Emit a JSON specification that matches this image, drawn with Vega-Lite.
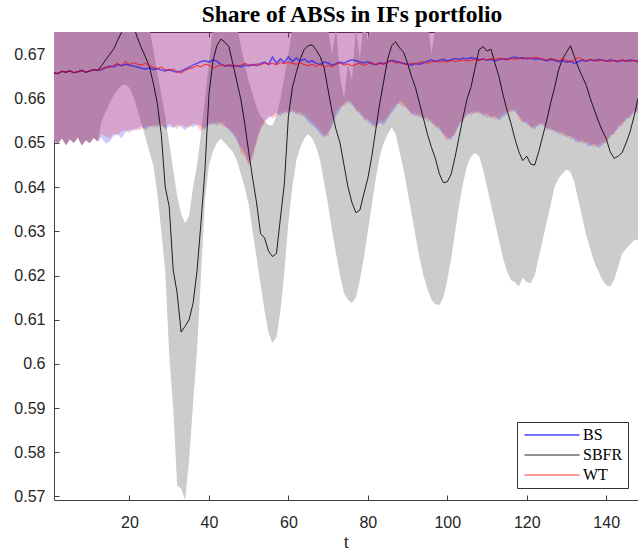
{
  "$schema": "https://vega.github.io/schema/vega-lite/v6.json",
  "autosize": {"type": "none"},
  "padding": {"left": 54, "top": 32, "right": 0, "bottom": 53},
  "width": 584,
  "height": 468,
  "title": {"text": "Share of ABSs in IFs portfolio", "font": "Liberation Serif", "fontSize": 23.5, "fontWeight": "bold", "color": "#000000", "offset": 5, "dx": 6},
  "config": {
    "view": {"stroke": null},
    "axis": {"domainColor": "#404040", "tickColor": "#404040", "labelColor": "#262626", "labelFont": "Liberation Sans", "labelFontSize": 16, "grid": false, "tickSize": -5}
  },
  "data": {"values": [
    {"t":1,"sb":0.6658,"bs":0.6658,"wt":0.6658,"gl":0.6505,"gu":0.688,"bl":0.6505,"rl":0.6505,"bu":0.689,"ru":0.687},
    {"t":2,"sb":0.6657,"bs":0.6657,"wt":0.6657,"gl":0.6498,"gu":0.686,"bl":0.6498,"rl":0.6498,"bu":0.690,"ru":0.688},
    {"t":3,"sb":0.6662,"bs":0.6662,"wt":0.6662,"gl":0.6510,"gu":0.687,"bl":0.6510,"rl":0.6510,"bu":0.688,"ru":0.689},
    {"t":4,"sb":0.6660,"bs":0.6660,"wt":0.6660,"gl":0.6495,"gu":0.689,"bl":0.6495,"rl":0.6495,"bu":0.691,"ru":0.686},
    {"t":5,"sb":0.6663,"bs":0.6663,"wt":0.6663,"gl":0.6508,"gu":0.688,"bl":0.6508,"rl":0.6508,"bu":0.687,"ru":0.690},
    {"t":6,"sb":0.6659,"bs":0.6659,"wt":0.6659,"gl":0.6500,"gu":0.686,"bl":0.6500,"rl":0.6500,"bu":0.689,"ru":0.688},
    {"t":7,"sb":0.6661,"bs":0.6661,"wt":0.6661,"gl":0.6512,"gu":0.690,"bl":0.6512,"rl":0.6512,"bu":0.688,"ru":0.691},
    {"t":8,"sb":0.6664,"bs":0.6664,"wt":0.6664,"gl":0.6494,"gu":0.687,"bl":0.6494,"rl":0.6494,"bu":0.690,"ru":0.687},
    {"t":9,"sb":0.6660,"bs":0.6660,"wt":0.6660,"gl":0.6506,"gu":0.688,"bl":0.6506,"rl":0.6506,"bu":0.686,"ru":0.689},
    {"t":10,"sb":0.6663,"bs":0.6663,"wt":0.6663,"gl":0.6499,"gu":0.689,"bl":0.6499,"rl":0.6499,"bu":0.689,"ru":0.690},
    {"t":11,"sb":0.6666,"bs":0.6666,"wt":0.6666,"gl":0.6511,"gu":0.687,"bl":0.6511,"rl":0.6511,"bu":0.691,"ru":0.688},
    {"t":12,"sb":0.6664,"bs":0.6664,"wt":0.6664,"gl":0.6503,"gu":0.688,"bl":0.6503,"rl":0.6503,"bu":0.688,"ru":0.689},
    {"t":13,"sb":0.6675,"bs":0.6666,"wt":0.6668,"gl":0.6550,"gu":0.688,"bl":0.6512,"rl":0.6520,"bu":0.690,"ru":0.687},
    {"t":14,"sb":0.6688,"bs":0.6670,"wt":0.6672,"gl":0.6570,"gu":0.686,"bl":0.6498,"rl":0.6515,"bu":0.687,"ru":0.690},
    {"t":15,"sb":0.6700,"bs":0.6674,"wt":0.6670,"gl":0.6590,"gu":0.689,"bl":0.6503,"rl":0.6510,"bu":0.689,"ru":0.688},
    {"t":16,"sb":0.6712,"bs":0.6672,"wt":0.6676,"gl":0.6608,"gu":0.687,"bl":0.6515,"rl":0.6522,"bu":0.691,"ru":0.689},
    {"t":17,"sb":0.6732,"bs":0.6677,"wt":0.6680,"gl":0.6620,"gu":0.690,"bl":0.6520,"rl":0.6518,"bu":0.688,"ru":0.687},
    {"t":18,"sb":0.6750,"bs":0.6675,"wt":0.6674,"gl":0.6630,"gu":0.688,"bl":0.6510,"rl":0.6526,"bu":0.690,"ru":0.690},
    {"t":19,"sb":0.6770,"bs":0.6678,"wt":0.6685,"gl":0.6632,"gu":0.686,"bl":0.6524,"rl":0.6530,"bu":0.687,"ru":0.688},
    {"t":20,"sb":0.6778,"bs":0.6676,"wt":0.6677,"gl":0.6625,"gu":0.689,"bl":0.6530,"rl":0.6522,"bu":0.689,"ru":0.691},
    {"t":21,"sb":0.6765,"bs":0.6674,"wt":0.6682,"gl":0.6605,"gu":0.687,"bl":0.6527,"rl":0.6534,"bu":0.688,"ru":0.687},
    {"t":22,"sb":0.6738,"bs":0.6672,"wt":0.6678,"gl":0.6575,"gu":0.685,"bl":0.6533,"rl":0.6528,"bu":0.690,"ru":0.689},
    {"t":23,"sb":0.6715,"bs":0.6669,"wt":0.6676,"gl":0.6545,"gu":0.684,"bl":0.6538,"rl":0.6531,"bu":0.687,"ru":0.688},
    {"t":24,"sb":0.6695,"bs":0.6667,"wt":0.6680,"gl":0.6512,"gu":0.680,"bl":0.6529,"rl":0.6537,"bu":0.689,"ru":0.690},
    {"t":25,"sb":0.6673,"bs":0.6670,"wt":0.6674,"gl":0.6480,"gu":0.676,"bl":0.6536,"rl":0.6540,"bu":0.691,"ru":0.687},
    {"t":26,"sb":0.6635,"bs":0.6666,"wt":0.6671,"gl":0.6450,"gu":0.671,"bl":0.6541,"rl":0.6534,"bu":0.688,"ru":0.689},
    {"t":27,"sb":0.6590,"bs":0.6668,"wt":0.6668,"gl":0.6385,"gu":0.666,"bl":0.6535,"rl":0.6543,"bu":0.690,"ru":0.688},
    {"t":28,"sb":0.6520,"bs":0.6665,"wt":0.6672,"gl":0.6300,"gu":0.661,"bl":0.6545,"rl":0.6538,"bu":0.687,"ru":0.690},
    {"t":29,"sb":0.6400,"bs":0.6663,"wt":0.6666,"gl":0.6210,"gu":0.656,"bl":0.6530,"rl":0.6535,"bu":0.689,"ru":0.687},
    {"t":30,"sb":0.6356,"bs":0.6666,"wt":0.6664,"gl":0.6020,"gu":0.650,"bl":0.6538,"rl":0.6544,"bu":0.688,"ru":0.691},
    {"t":31,"sb":0.6213,"bs":0.6662,"wt":0.6667,"gl":0.5900,"gu":0.644,"bl":0.6533,"rl":0.6539,"bu":0.690,"ru":0.688},
    {"t":32,"sb":0.6160,"bs":0.6660,"wt":0.6662,"gl":0.5725,"gu":0.638,"bl":0.6541,"rl":0.6531,"bu":0.687,"ru":0.689},
    {"t":33,"sb":0.6072,"bs":0.6663,"wt":0.6658,"gl":0.5718,"gu":0.634,"bl":0.6536,"rl":0.6542,"bu":0.689,"ru":0.687},
    {"t":34,"sb":0.6085,"bs":0.6667,"wt":0.6664,"gl":0.5692,"gu":0.6318,"bl":0.6528,"rl":0.6536,"bu":0.691,"ru":0.690},
    {"t":35,"sb":0.6100,"bs":0.6671,"wt":0.6668,"gl":0.5780,"gu":0.6335,"bl":0.6540,"rl":0.6534,"bu":0.688,"ru":0.688},
    {"t":36,"sb":0.6137,"bs":0.6676,"wt":0.6670,"gl":0.5910,"gu":0.6400,"bl":0.6535,"rl":0.6545,"bu":0.690,"ru":0.689},
    {"t":37,"sb":0.6210,"bs":0.6680,"wt":0.6675,"gl":0.6030,"gu":0.6450,"bl":0.6543,"rl":0.6538,"bu":0.687,"ru":0.691},
    {"t":38,"sb":0.6320,"bs":0.6684,"wt":0.6672,"gl":0.6200,"gu":0.6520,"bl":0.6538,"rl":0.6527,"bu":0.689,"ru":0.687},
    {"t":39,"sb":0.6439,"bs":0.6686,"wt":0.6678,"gl":0.6370,"gu":0.6600,"bl":0.6530,"rl":0.6535,"bu":0.688,"ru":0.690},
    {"t":40,"sb":0.6610,"bs":0.6683,"wt":0.6676,"gl":0.6450,"gu":0.6680,"bl":0.6540,"rl":0.6546,"bu":0.690,"ru":0.688},
    {"t":41,"sb":0.6685,"bs":0.6688,"wt":0.6669,"gl":0.6480,"gu":0.6760,"bl":0.6547,"rl":0.6540,"bu":0.687,"ru":0.689},
    {"t":42,"sb":0.6720,"bs":0.6685,"wt":0.6673,"gl":0.6500,"gu":0.684,"bl":0.6539,"rl":0.6549,"bu":0.689,"ru":0.687},
    {"t":43,"sb":0.6735,"bs":0.6678,"wt":0.6677,"gl":0.6510,"gu":0.687,"bl":0.6548,"rl":0.6541,"bu":0.691,"ru":0.690},
    {"t":44,"sb":0.6728,"bs":0.6674,"wt":0.6675,"gl":0.6500,"gu":0.686,"bl":0.6540,"rl":0.6536,"bu":0.688,"ru":0.688},
    {"t":45,"sb":0.6718,"bs":0.6676,"wt":0.6674,"gl":0.6490,"gu":0.688,"bl":0.6528,"rl":0.6534,"bu":0.690,"ru":0.691},
    {"t":46,"sb":0.6680,"bs":0.6673,"wt":0.6678,"gl":0.6480,"gu":0.682,"bl":0.6520,"rl":0.6524,"bu":0.687,"ru":0.687},
    {"t":47,"sb":0.6640,"bs":0.6675,"wt":0.6673,"gl":0.6460,"gu":0.677,"bl":0.6505,"rl":0.6512,"bu":0.689,"ru":0.689},
    {"t":48,"sb":0.6600,"bs":0.6672,"wt":0.6676,"gl":0.6430,"gu":0.672,"bl":0.6490,"rl":0.6478,"bu":0.688,"ru":0.690},
    {"t":49,"sb":0.6545,"bs":0.6676,"wt":0.6680,"gl":0.6400,"gu":0.668,"bl":0.6478,"rl":0.6470,"bu":0.690,"ru":0.688},
    {"t":50,"sb":0.6480,"bs":0.6674,"wt":0.6677,"gl":0.6360,"gu":0.664,"bl":0.6455,"rl":0.6448,"bu":0.687,"ru":0.689},
    {"t":51,"sb":0.6420,"bs":0.6678,"wt":0.6675,"gl":0.6300,"gu":0.661,"bl":0.6472,"rl":0.6465,"bu":0.689,"ru":0.687},
    {"t":52,"sb":0.6364,"bs":0.6675,"wt":0.6679,"gl":0.6240,"gu":0.658,"bl":0.6508,"rl":0.6500,"bu":0.691,"ru":0.690},
    {"t":53,"sb":0.6295,"bs":0.6680,"wt":0.6676,"gl":0.6180,"gu":0.656,"bl":0.6535,"rl":0.6528,"bu":0.688,"ru":0.688},
    {"t":54,"sb":0.6285,"bs":0.6683,"wt":0.6681,"gl":0.6120,"gu":0.655,"bl":0.6550,"rl":0.6545,"bu":0.690,"ru":0.691},
    {"t":55,"sb":0.6255,"bs":0.6677,"wt":0.6678,"gl":0.6070,"gu":0.654,"bl":0.6556,"rl":0.6562,"bu":0.687,"ru":0.687},
    {"t":56,"sb":0.6243,"bs":0.6694,"wt":0.6680,"gl":0.6047,"gu":0.654,"bl":0.6562,"rl":0.6555,"bu":0.689,"ru":0.689},
    {"t":57,"sb":0.6250,"bs":0.6680,"wt":0.6677,"gl":0.6060,"gu":0.656,"bl":0.6568,"rl":0.6560,"bu":0.688,"ru":0.690},
    {"t":58,"sb":0.6330,"bs":0.6690,"wt":0.6682,"gl":0.6120,"gu":0.660,"bl":0.6560,"rl":0.6570,"bu":0.690,"ru":0.688},
    {"t":59,"sb":0.6410,"bs":0.6682,"wt":0.6679,"gl":0.6210,"gu":0.665,"bl":0.6572,"rl":0.6565,"bu":0.687,"ru":0.689},
    {"t":60,"sb":0.6560,"bs":0.6695,"wt":0.6683,"gl":0.6320,"gu":0.670,"bl":0.6566,"rl":0.6575,"bu":0.689,"ru":0.687},
    {"t":61,"sb":0.6625,"bs":0.6684,"wt":0.6680,"gl":0.6400,"gu":0.676,"bl":0.6575,"rl":0.6568,"bu":0.691,"ru":0.690},
    {"t":62,"sb":0.6660,"bs":0.6692,"wt":0.6678,"gl":0.6460,"gu":0.684,"bl":0.6563,"rl":0.6572,"bu":0.688,"ru":0.688},
    {"t":63,"sb":0.6690,"bs":0.6685,"wt":0.6681,"gl":0.6490,"gu":0.687,"bl":0.6570,"rl":0.6560,"bu":0.690,"ru":0.691},
    {"t":64,"sb":0.6712,"bs":0.6690,"wt":0.6677,"gl":0.6510,"gu":0.689,"bl":0.6558,"rl":0.6566,"bu":0.687,"ru":0.687},
    {"t":65,"sb":0.6720,"bs":0.6683,"wt":0.6675,"gl":0.6520,"gu":0.686,"bl":0.6548,"rl":0.6555,"bu":0.689,"ru":0.689},
    {"t":66,"sb":0.6722,"bs":0.6686,"wt":0.6678,"gl":0.6510,"gu":0.688,"bl":0.6540,"rl":0.6546,"bu":0.688,"ru":0.690},
    {"t":67,"sb":0.6710,"bs":0.6680,"wt":0.6673,"gl":0.6490,"gu":0.686,"bl":0.6532,"rl":0.6538,"bu":0.690,"ru":0.688},
    {"t":68,"sb":0.6695,"bs":0.6677,"wt":0.6679,"gl":0.6460,"gu":0.684,"bl":0.6520,"rl":0.6528,"bu":0.687,"ru":0.689},
    {"t":69,"sb":0.6670,"bs":0.6683,"wt":0.6670,"gl":0.6410,"gu":0.681,"bl":0.6512,"rl":0.6518,"bu":0.689,"ru":0.687},
    {"t":70,"sb":0.6620,"bs":0.6681,"wt":0.6676,"gl":0.6360,"gu":0.676,"bl":0.6525,"rl":0.6515,"bu":0.691,"ru":0.690},
    {"t":71,"sb":0.6570,"bs":0.6676,"wt":0.6672,"gl":0.6300,"gu":0.670,"bl":0.6538,"rl":0.6545,"bu":0.688,"ru":0.688},
    {"t":72,"sb":0.6530,"bs":0.6679,"wt":0.6678,"gl":0.6250,"gu":0.676,"bl":0.6560,"rl":0.6570,"bu":0.690,"ru":0.691},
    {"t":73,"sb":0.6500,"bs":0.6683,"wt":0.6681,"gl":0.6200,"gu":0.665,"bl":0.6575,"rl":0.6582,"bu":0.687,"ru":0.687},
    {"t":74,"sb":0.6450,"bs":0.6680,"wt":0.6676,"gl":0.6160,"gu":0.660,"bl":0.6590,"rl":0.6584,"bu":0.689,"ru":0.689},
    {"t":75,"sb":0.6400,"bs":0.6685,"wt":0.6679,"gl":0.6145,"gu":0.668,"bl":0.6596,"rl":0.6590,"bu":0.688,"ru":0.690},
    {"t":76,"sb":0.6365,"bs":0.6688,"wt":0.6674,"gl":0.6137,"gu":0.664,"bl":0.6585,"rl":0.6595,"bu":0.690,"ru":0.688},
    {"t":77,"sb":0.6342,"bs":0.6686,"wt":0.6678,"gl":0.6150,"gu":0.676,"bl":0.6578,"rl":0.6570,"bu":0.687,"ru":0.689},
    {"t":78,"sb":0.6348,"bs":0.6683,"wt":0.6680,"gl":0.6190,"gu":0.669,"bl":0.6565,"rl":0.6572,"bu":0.689,"ru":0.687},
    {"t":79,"sb":0.6385,"bs":0.6681,"wt":0.6675,"gl":0.6240,"gu":0.678,"bl":0.6558,"rl":0.6550,"bu":0.691,"ru":0.690},
    {"t":80,"sb":0.6420,"bs":0.6684,"wt":0.6679,"gl":0.6300,"gu":0.673,"bl":0.6548,"rl":0.6555,"bu":0.688,"ru":0.688},
    {"t":81,"sb":0.6470,"bs":0.6679,"wt":0.6682,"gl":0.6360,"gu":0.680,"bl":0.6540,"rl":0.6546,"bu":0.690,"ru":0.691},
    {"t":82,"sb":0.6530,"bs":0.6677,"wt":0.6677,"gl":0.6420,"gu":0.684,"bl":0.6538,"rl":0.6532,"bu":0.687,"ru":0.687},
    {"t":83,"sb":0.6590,"bs":0.6681,"wt":0.6680,"gl":0.6470,"gu":0.686,"bl":0.6545,"rl":0.6552,"bu":0.689,"ru":0.689},
    {"t":84,"sb":0.6640,"bs":0.6679,"wt":0.6678,"gl":0.6500,"gu":0.687,"bl":0.6540,"rl":0.6548,"bu":0.688,"ru":0.690},
    {"t":85,"sb":0.6690,"bs":0.6683,"wt":0.6683,"gl":0.6520,"gu":0.688,"bl":0.6555,"rl":0.6560,"bu":0.690,"ru":0.688},
    {"t":86,"sb":0.6720,"bs":0.6687,"wt":0.6686,"gl":0.6535,"gu":0.689,"bl":0.6568,"rl":0.6575,"bu":0.687,"ru":0.689},
    {"t":87,"sb":0.6729,"bs":0.6685,"wt":0.6680,"gl":0.6520,"gu":0.687,"bl":0.6580,"rl":0.6587,"bu":0.689,"ru":0.687},
    {"t":88,"sb":0.6715,"bs":0.6682,"wt":0.6684,"gl":0.6480,"gu":0.688,"bl":0.6595,"rl":0.6588,"bu":0.691,"ru":0.690},
    {"t":89,"sb":0.6705,"bs":0.6680,"wt":0.6679,"gl":0.6440,"gu":0.687,"bl":0.6590,"rl":0.6582,"bu":0.688,"ru":0.688},
    {"t":90,"sb":0.6680,"bs":0.6678,"wt":0.6677,"gl":0.6390,"gu":0.686,"bl":0.6575,"rl":0.6580,"bu":0.690,"ru":0.691},
    {"t":91,"sb":0.6650,"bs":0.6676,"wt":0.6681,"gl":0.6340,"gu":0.685,"bl":0.6568,"rl":0.6562,"bu":0.687,"ru":0.687},
    {"t":92,"sb":0.6625,"bs":0.6680,"wt":0.6678,"gl":0.6290,"gu":0.684,"bl":0.6560,"rl":0.6570,"bu":0.689,"ru":0.689},
    {"t":93,"sb":0.6590,"bs":0.6678,"wt":0.6682,"gl":0.6240,"gu":0.682,"bl":0.6565,"rl":0.6557,"bu":0.688,"ru":0.690},
    {"t":94,"sb":0.6555,"bs":0.6681,"wt":0.6684,"gl":0.6200,"gu":0.680,"bl":0.6552,"rl":0.6560,"bu":0.690,"ru":0.688},
    {"t":95,"sb":0.6520,"bs":0.6685,"wt":0.6680,"gl":0.6170,"gu":0.678,"bl":0.6558,"rl":0.6548,"bu":0.687,"ru":0.689},
    {"t":96,"sb":0.6490,"bs":0.6688,"wt":0.6683,"gl":0.6145,"gu":0.6700,"bl":0.6545,"rl":0.6552,"bu":0.689,"ru":0.687},
    {"t":97,"sb":0.6465,"bs":0.6684,"wt":0.6686,"gl":0.6135,"gu":0.6760,"bl":0.6540,"rl":0.6534,"bu":0.691,"ru":0.690},
    {"t":98,"sb":0.6430,"bs":0.6687,"wt":0.6682,"gl":0.6133,"gu":0.677,"bl":0.6530,"rl":0.6538,"bu":0.688,"ru":0.688},
    {"t":99,"sb":0.6410,"bs":0.6689,"wt":0.6685,"gl":0.6150,"gu":0.678,"bl":0.6522,"rl":0.6516,"bu":0.690,"ru":0.691},
    {"t":100,"sb":0.6412,"bs":0.6686,"wt":0.6683,"gl":0.6190,"gu":0.679,"bl":0.6512,"rl":0.6505,"bu":0.687,"ru":0.687},
    {"t":101,"sb":0.6430,"bs":0.6688,"wt":0.6687,"gl":0.6240,"gu":0.680,"bl":0.6508,"rl":0.6515,"bu":0.689,"ru":0.689},
    {"t":102,"sb":0.6470,"bs":0.6691,"wt":0.6684,"gl":0.6300,"gu":0.681,"bl":0.6525,"rl":0.6518,"bu":0.688,"ru":0.690},
    {"t":103,"sb":0.6515,"bs":0.6689,"wt":0.6686,"gl":0.6360,"gu":0.682,"bl":0.6540,"rl":0.6548,"bu":0.690,"ru":0.688},
    {"t":104,"sb":0.6560,"bs":0.6692,"wt":0.6688,"gl":0.6410,"gu":0.683,"bl":0.6555,"rl":0.6548,"bu":0.687,"ru":0.689},
    {"t":105,"sb":0.6600,"bs":0.6690,"wt":0.6685,"gl":0.6450,"gu":0.685,"bl":0.6562,"rl":0.6570,"bu":0.689,"ru":0.687},
    {"t":106,"sb":0.6628,"bs":0.6693,"wt":0.6687,"gl":0.6470,"gu":0.687,"bl":0.6570,"rl":0.6562,"bu":0.691,"ru":0.690},
    {"t":107,"sb":0.6670,"bs":0.6691,"wt":0.6689,"gl":0.6477,"gu":0.688,"bl":0.6566,"rl":0.6574,"bu":0.688,"ru":0.688},
    {"t":108,"sb":0.6711,"bs":0.6688,"wt":0.6686,"gl":0.6470,"gu":0.689,"bl":0.6573,"rl":0.6565,"bu":0.690,"ru":0.691},
    {"t":109,"sb":0.6718,"bs":0.6690,"wt":0.6690,"gl":0.6440,"gu":0.687,"bl":0.6560,"rl":0.6568,"bu":0.687,"ru":0.687},
    {"t":110,"sb":0.6708,"bs":0.6687,"wt":0.6688,"gl":0.6400,"gu":0.688,"bl":0.6568,"rl":0.6556,"bu":0.689,"ru":0.689},
    {"t":111,"sb":0.6712,"bs":0.6689,"wt":0.6691,"gl":0.6360,"gu":0.686,"bl":0.6555,"rl":0.6562,"bu":0.688,"ru":0.690},
    {"t":112,"sb":0.6680,"bs":0.6686,"wt":0.6689,"gl":0.6320,"gu":0.689,"bl":0.6562,"rl":0.6553,"bu":0.690,"ru":0.688},
    {"t":113,"sb":0.6650,"bs":0.6688,"wt":0.6692,"gl":0.6280,"gu":0.687,"bl":0.6550,"rl":0.6558,"bu":0.687,"ru":0.689},
    {"t":114,"sb":0.6610,"bs":0.6691,"wt":0.6690,"gl":0.6240,"gu":0.685,"bl":0.6558,"rl":0.6565,"bu":0.689,"ru":0.687},
    {"t":115,"sb":0.6575,"bs":0.6689,"wt":0.6688,"gl":0.6210,"gu":0.683,"bl":0.6566,"rl":0.6572,"bu":0.691,"ru":0.690},
    {"t":116,"sb":0.6545,"bs":0.6692,"wt":0.6691,"gl":0.6190,"gu":0.681,"bl":0.6575,"rl":0.6568,"bu":0.688,"ru":0.688},
    {"t":117,"sb":0.6510,"bs":0.6694,"wt":0.6689,"gl":0.6185,"gu":0.680,"bl":0.6570,"rl":0.6578,"bu":0.690,"ru":0.691},
    {"t":118,"sb":0.6480,"bs":0.6691,"wt":0.6692,"gl":0.6175,"gu":0.679,"bl":0.6562,"rl":0.6555,"bu":0.687,"ru":0.687},
    {"t":119,"sb":0.6460,"bs":0.6693,"wt":0.6690,"gl":0.6195,"gu":0.678,"bl":0.6550,"rl":0.6545,"bu":0.689,"ru":0.689},
    {"t":120,"sb":0.6470,"bs":0.6690,"wt":0.6693,"gl":0.6185,"gu":0.679,"bl":0.6542,"rl":0.6550,"bu":0.688,"ru":0.690},
    {"t":121,"sb":0.6452,"bs":0.6692,"wt":0.6691,"gl":0.6183,"gu":0.678,"bl":0.6538,"rl":0.6532,"bu":0.690,"ru":0.688},
    {"t":122,"sb":0.6450,"bs":0.6689,"wt":0.6694,"gl":0.6200,"gu":0.680,"bl":0.6530,"rl":0.6540,"bu":0.687,"ru":0.689},
    {"t":123,"sb":0.6480,"bs":0.6691,"wt":0.6692,"gl":0.6240,"gu":0.682,"bl":0.6545,"rl":0.6538,"bu":0.689,"ru":0.687},
    {"t":124,"sb":0.6515,"bs":0.6688,"wt":0.6690,"gl":0.6280,"gu":0.684,"bl":0.6540,"rl":0.6548,"bu":0.691,"ru":0.690},
    {"t":125,"sb":0.6550,"bs":0.6686,"wt":0.6688,"gl":0.6320,"gu":0.686,"bl":0.6535,"rl":0.6528,"bu":0.688,"ru":0.688},
    {"t":126,"sb":0.6590,"bs":0.6689,"wt":0.6691,"gl":0.6360,"gu":0.688,"bl":0.6528,"rl":0.6535,"bu":0.690,"ru":0.691},
    {"t":127,"sb":0.6625,"bs":0.6687,"wt":0.6689,"gl":0.6400,"gu":0.689,"bl":0.6530,"rl":0.6522,"bu":0.687,"ru":0.687},
    {"t":128,"sb":0.6665,"bs":0.6684,"wt":0.6686,"gl":0.6420,"gu":0.687,"bl":0.6520,"rl":0.6528,"bu":0.689,"ru":0.689},
    {"t":129,"sb":0.6690,"bs":0.6686,"wt":0.6690,"gl":0.6430,"gu":0.688,"bl":0.6525,"rl":0.6515,"bu":0.688,"ru":0.690},
    {"t":130,"sb":0.6705,"bs":0.6683,"wt":0.6687,"gl":0.6440,"gu":0.689,"bl":0.6512,"rl":0.6520,"bu":0.690,"ru":0.688},
    {"t":131,"sb":0.6720,"bs":0.6685,"wt":0.6683,"gl":0.6435,"gu":0.688,"bl":0.6518,"rl":0.6508,"bu":0.687,"ru":0.689},
    {"t":132,"sb":0.6695,"bs":0.6680,"wt":0.6688,"gl":0.6410,"gu":0.687,"bl":0.6505,"rl":0.6512,"bu":0.689,"ru":0.687},
    {"t":133,"sb":0.6670,"bs":0.6684,"wt":0.6693,"gl":0.6370,"gu":0.686,"bl":0.6500,"rl":0.6506,"bu":0.691,"ru":0.690},
    {"t":134,"sb":0.6650,"bs":0.6687,"wt":0.6689,"gl":0.6330,"gu":0.684,"bl":0.6508,"rl":0.6498,"bu":0.688,"ru":0.688},
    {"t":135,"sb":0.6630,"bs":0.6685,"wt":0.6686,"gl":0.6290,"gu":0.682,"bl":0.6496,"rl":0.6503,"bu":0.690,"ru":0.691},
    {"t":136,"sb":0.6600,"bs":0.6688,"wt":0.6689,"gl":0.6260,"gu":0.681,"bl":0.6492,"rl":0.6498,"bu":0.687,"ru":0.687},
    {"t":137,"sb":0.6575,"bs":0.6686,"wt":0.6687,"gl":0.6230,"gu":0.680,"bl":0.6500,"rl":0.6490,"bu":0.689,"ru":0.689},
    {"t":138,"sb":0.6550,"bs":0.6689,"wt":0.6685,"gl":0.6210,"gu":0.679,"bl":0.6488,"rl":0.6495,"bu":0.688,"ru":0.690},
    {"t":139,"sb":0.6528,"bs":0.6687,"wt":0.6688,"gl":0.6190,"gu":0.678,"bl":0.6495,"rl":0.6502,"bu":0.690,"ru":0.688},
    {"t":140,"sb":0.6510,"bs":0.6685,"wt":0.6686,"gl":0.6178,"gu":0.677,"bl":0.6505,"rl":0.6498,"bu":0.687,"ru":0.689},
    {"t":141,"sb":0.6480,"bs":0.6688,"wt":0.6684,"gl":0.6175,"gu":0.677,"bl":0.6512,"rl":0.6520,"bu":0.689,"ru":0.687},
    {"t":142,"sb":0.6465,"bs":0.6686,"wt":0.6687,"gl":0.6190,"gu":0.678,"bl":0.6525,"rl":0.6518,"bu":0.691,"ru":0.690},
    {"t":143,"sb":0.6470,"bs":0.6684,"wt":0.6685,"gl":0.6220,"gu":0.679,"bl":0.6532,"rl":0.6540,"bu":0.688,"ru":0.688},
    {"t":144,"sb":0.6478,"bs":0.6687,"wt":0.6688,"gl":0.6250,"gu":0.680,"bl":0.6545,"rl":0.6538,"bu":0.690,"ru":0.691},
    {"t":145,"sb":0.6500,"bs":0.6685,"wt":0.6686,"gl":0.6260,"gu":0.682,"bl":0.6550,"rl":0.6558,"bu":0.687,"ru":0.687},
    {"t":146,"sb":0.6525,"bs":0.6688,"wt":0.6684,"gl":0.6270,"gu":0.684,"bl":0.6562,"rl":0.6555,"bu":0.689,"ru":0.689},
    {"t":147,"sb":0.6560,"bs":0.6686,"wt":0.6687,"gl":0.6280,"gu":0.685,"bl":0.6568,"rl":0.6575,"bu":0.688,"ru":0.690},
    {"t":148,"sb":0.6600,"bs":0.6684,"wt":0.6685,"gl":0.6281,"gu":0.686,"bl":0.6572,"rl":0.6566,"bu":0.690,"ru":0.688}
  ]},
  "layer": [
    {
      "mark": {"type": "area", "clip": true, "color": "#cccccc", "opacity": 1},
      "encoding": {
        "x": {"field": "t", "type": "quantitative", "scale": {"domain": [1, 148], "nice": false, "zero": false}, "axis": {"orient": "bottom", "values": [20, 40, 60, 80, 100, 120, 140], "title": "t", "titleFont": "Liberation Serif", "titleFontSize": 19, "titleFontWeight": "normal", "titleColor": "#262626", "titlePadding": 2, "labelPadding": 19}},
        "y": {"field": "gl", "type": "quantitative", "scale": {"domain": [0.5692, 0.6751], "nice": false, "zero": false}, "axis": {"values": [0.57, 0.58, 0.59, 0.6, 0.61, 0.62, 0.63, 0.64, 0.65, 0.66, 0.67], "format": ".2~f", "title": null, "labelPadding": 14}},
        "y2": {"field": "gu"}
      }
    },
    {
      "mark": {"type": "area", "clip": true, "color": "#0000ff", "opacity": 0.2},
      "encoding": {
        "x": {"field": "t", "type": "quantitative", "axis": {"orient": "top", "values": [20, 40, 60, 80, 100, 120, 140], "labels": false, "title": null}},
        "y": {"field": "bl", "type": "quantitative"},
        "y2": {"field": "bu"}
      }
    },
    {
      "mark": {"type": "area", "clip": true, "color": "#ff0000", "opacity": 0.2},
      "encoding": {
        "x": {"field": "t", "type": "quantitative", "axis": null},
        "y": {"field": "rl", "type": "quantitative"},
        "y2": {"field": "ru"}
      }
    },
    {
      "mark": {"type": "line", "clip": true, "strokeWidth": 1},
      "encoding": {
        "x": {"field": "t", "type": "quantitative", "axis": null},
        "y": {"field": "sb", "type": "quantitative"},
        "color": {
          "datum": "SBFR",
          "scale": {"domain": ["BS", "SBFR", "WT"], "range": ["rgba(0,0,255,0.55)", "rgba(0,0,0,0.85)", "rgba(255,0,0,0.8)"]},
          "legend": {
            "title": null, "orient": "none", "legendX": 463, "legendY": 390,
            "fillColor": "white", "strokeColor": "#333333", "padding": 5,
            "symbolType": "M-5,0H5", "symbolSize": 121, "symbolOffset": 22, "symbolStrokeWidth": 1.2,
            "labelFont": "Liberation Serif", "labelFontSize": 16, "labelColor": "#000000", "labelOffset": 23, "rowPadding": 4,
            "encode": {"symbols": {"update": {"strokeWidth": {"signal": "datum.value === 'BS' ? 2.2 : 1.1"}}}}
          }
        }
      }
    },
    {
      "mark": {"type": "line", "clip": true, "strokeWidth": 1.6},
      "encoding": {
        "x": {"field": "t", "type": "quantitative", "axis": null},
        "y": {"field": "bs", "type": "quantitative"},
        "color": {"datum": "BS"}
      }
    },
    {
      "mark": {"type": "line", "clip": true, "strokeWidth": 1},
      "encoding": {
        "x": {"field": "t", "type": "quantitative", "axis": null},
        "y": {"field": "wt", "type": "quantitative"},
        "color": {"datum": "WT"}
      }
    }
  ],
  "resolve": {"axis": {"x": "independent"}}
}
